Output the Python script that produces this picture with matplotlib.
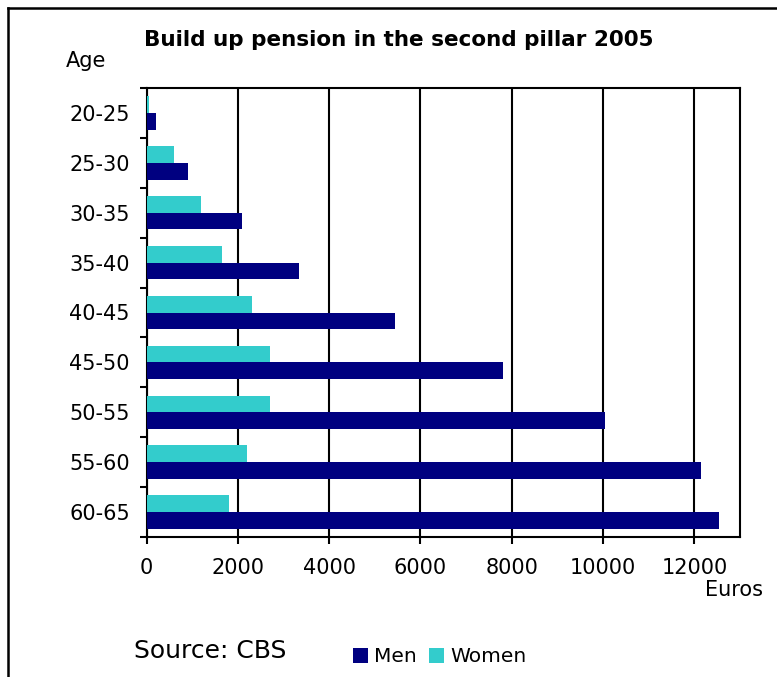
import matplotlib

matplotlib.use("Agg")
import matplotlib.pyplot as plt
from matplotlib.lines import Line2D
from matplotlib.patches import Patch
import numpy as np

AGE_GROUPS = ["20-25", "25-30", "30-35", "35-40", "40-45", "45-50", "50-55", "55-60", "60-65"]
MEN = [200, 900, 2100, 3350, 5450, 7800, 10050, 12150, 12550]
WOMEN = [60, 600, 1200, 1650, 2300, 2700, 2700, 2200, 1800]
X_TICKS = [0, 2000, 4000, 6000, 8000, 10000, 12000]

NAVY = "#000080"
TEAL = "#33CCCC"

plt.rcParams["font.family"] = ["DejaVu Sans"]

W, H = 777, 677
fig = plt.figure(figsize=(W / 100, H / 100), dpi=100)
ax = fig.add_axes([146.5 / W, 1 - 537 / H, (740 - 146.5) / W, (537 - 88) / H])

y = np.arange(len(AGE_GROUPS))
bar_h = 0.335
ax.barh(y - bar_h / 2, WOMEN, height=bar_h, color=TEAL, zorder=3)
ax.barh(y + bar_h / 2, MEN, height=bar_h, color=NAVY, zorder=3)

ax.set_xlim(0, 13000)
ax.set_ylim(len(AGE_GROUPS) - 0.5, -0.5)

ax.set_xticks(X_TICKS)
ax.set_xticklabels([str(v) for v in X_TICKS], fontsize=15)
ax.tick_params(axis="x", direction="out", length=5, width=1.5, pad=10)

ax.set_yticks(y)
ax.set_yticklabels(AGE_GROUPS, fontsize=15)
ax.tick_params(axis="y", which="major", length=0, pad=12)
ax.set_yticks(np.arange(-0.5, len(AGE_GROUPS)), minor=True)
ax.tick_params(axis="y", which="minor", direction="out", length=5, width=1.5)

ax.grid(axis="x", color="black", linewidth=1.5, zorder=1)
ax.set_axisbelow(True)
for side in ax.spines.values():
    side.set_linewidth(1.5)
    side.set_color("black")

fig.text(399 / W, 1 - 40 / H, "Build up pension in the second pillar 2005",
         ha="center", va="center", fontsize=15.5, weight="bold")
fig.text(66 / W, 1 - 61 / H, "Age", ha="left", va="center", fontsize=15)
fig.text(705 / W, 1 - 590 / H, "Euros", ha="left", va="center", fontsize=15)
fig.text(134 / W, 1 - 651 / H, "Source: CBS", ha="left", va="center", fontsize=18)

handles = [Patch(facecolor=NAVY), Patch(facecolor=TEAL)]
fig.legend(handles, ["Men", "Women"], loc="center", bbox_to_anchor=(440 / W, 1 - 657 / H),
           ncol=2, frameon=False, fontsize=14.5, handlelength=0.75, handleheight=0.75,
           handletextpad=0.3, columnspacing=0.6, borderpad=0)

# frame around the chart (open on the right and bottom)
fig.add_artist(Line2D([8 / W, 8 / W], [0, 1 - 7.5 / H], color="black", linewidth=1.8,
                      transform=fig.transFigure))
fig.add_artist(Line2D([8 / W, 1], [1 - 7.5 / H, 1 - 7.5 / H], color="black", linewidth=1.8,
                      transform=fig.transFigure))

fig.savefig("out.png", dpi=100, facecolor="white")
